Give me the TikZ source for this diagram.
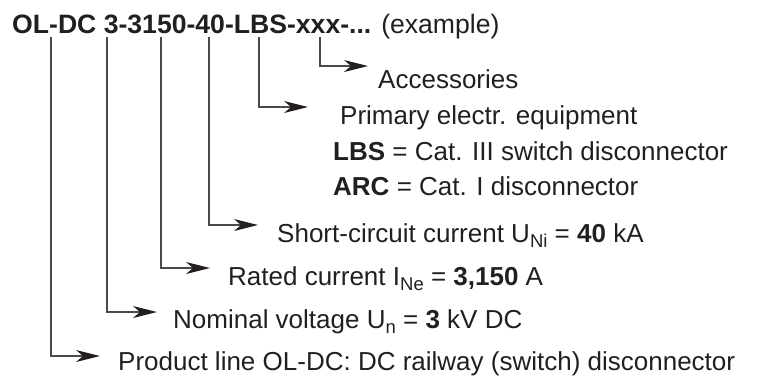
\documentclass[tikz,border=0pt]{standalone}
\usepackage{fontspec}
\setmainfont{Liberation Sans}
\usetikzlibrary{arrows.meta}
\definecolor{txt}{HTML}{231F20}
\definecolor{ln}{HTML}{4A4A4A}
\newcommand{\lowsub}[1]{\raisebox{-5.5pt}{\fontsize{18.5}{18.5}\selectfont #1}}
\begin{document}
\begin{tikzpicture}[x=1pt,y=1pt,
  lbl/.style={anchor=base west,inner sep=0pt,text=txt,font=\fontsize{26}{30}\selectfont},
  conn/.style={draw=ln,line width=1.1pt,-{Stealth[length=24pt,width=12pt,inset=7pt,fill=txt,line width=0pt]}}]
\useasboundingbox (0,0) rectangle (758,-375);
\node[lbl,font=\fontsize{26.6}{30}\selectfont] (title) at (12,-33.3) {\textbf{OL-DC 3-3150-40-LBS-xxx-...} (example)};
% labels
\node[lbl] (acc) at (378,-88) {Accessories};
\node[lbl] (prim) at (340,-124) {Primary electr. equipment};
\node[lbl] (lbs) at (333,-160) {\textbf{LBS} = Cat. III switch disconnector};
\node[lbl] (arc) at (333,-195) {\textbf{ARC} = Cat. I disconnector};
\node[lbl] (sc) at (277,-242) {Short-circuit current U\lowsub{Ni} = \textbf{40} kA};
\node[lbl] (rc) at (228,-285) {Rated current I\lowsub{Ne} = \textbf{3,150} A};
\node[lbl] (nv) at (173,-328) {Nominal voltage U\lowsub{n} = \textbf{3} kV DC};
\node[lbl] (pl) at (118,-370) {Product line OL-DC: DC railway (switch) disconnector};
% connector start points under the code
\coordinate (s1) at (51,-37);
\coordinate (s2) at (107,-37);
\coordinate (s3) at (161,-37);
\coordinate (s4) at (209,-37);
\coordinate (s5) at (259,-37);
\coordinate (s6) at (320,-37);
% arrow tips
\coordinate (e1) at (100,-356);
\coordinate (e2) at (157,-312);
\coordinate (e3) at (210,-268);
\coordinate (e4) at (258,-225);
\coordinate (e5) at (308,-107);
\coordinate (e6) at (368,-66);
\draw[conn] (s1) |- (e1);
\draw[conn] (s2) |- (e2);
\draw[conn] (s3) |- (e3);
\draw[conn] (s4) |- (e4);
\draw[conn] (s5) |- (e5);
\draw[conn] (s6) |- (e6);
\end{tikzpicture}
\end{document}
